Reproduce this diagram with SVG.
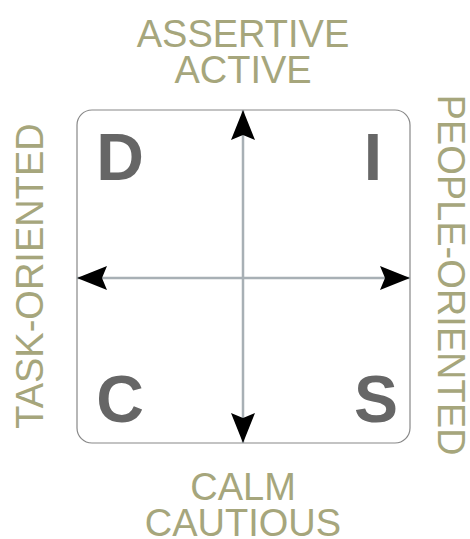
<svg xmlns="http://www.w3.org/2000/svg" width="470" height="539" viewBox="0 0 470 539">
<style>
.lbl{font-family:"Liberation Sans",Arial,sans-serif;font-size:38px;fill:#a6a67c;text-anchor:middle}
.q{font-family:"Liberation Sans",Arial,sans-serif;font-weight:bold;font-size:66px;fill:#666666;text-anchor:middle}
.ax{stroke:#a8b0b5;stroke-width:2.5;fill:none}
</style>
<defs>
<marker id="ah" viewBox="0 0 30 24" refX="30" refY="12" markerWidth="30" markerHeight="24" markerUnits="userSpaceOnUse" orient="auto-start-reverse">
<path d="M0,0 L30,12 L0,24 L5,12 Z" fill="#000"/>
</marker>
</defs>
<rect id="frame" x="77" y="110" width="333" height="333" rx="15" fill="#fff" stroke="#888" stroke-width="1.2"/>
<g id="connectors">
<line class="ax" x1="243" y1="110" x2="243" y2="443" marker-start="url(#ah)" marker-end="url(#ah)"/>
<line class="ax" x1="77" y1="278" x2="410" y2="278" marker-start="url(#ah)" marker-end="url(#ah)"/>
</g>
<g id="D"><text class="q" x="120" y="180">D</text></g>
<g id="I"><text class="q" x="373" y="180">I</text></g>
<g id="C"><text class="q" x="120" y="422">C</text></g>
<g id="S"><text class="q" x="376" y="422">S</text></g>
<g id="top"><text class="lbl" x="243" y="47">ASSERTIVE</text><text class="lbl" x="243" y="83">ACTIVE</text></g>
<g id="bottom"><text class="lbl" x="243" y="500">CALM</text><text class="lbl" x="243" y="536">CAUTIOUS</text></g>
<g id="left"><text class="lbl" transform="translate(43,276) rotate(-90)">TASK-ORIENTED</text></g>
<g id="right"><text class="lbl" transform="translate(438,275) rotate(90)">PEOPLE-ORIENTED</text></g>
</svg>
